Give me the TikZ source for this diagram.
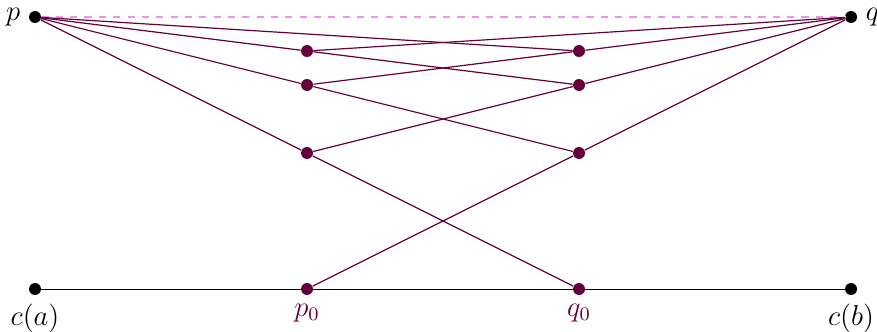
\documentclass[tikz,border=0pt]{standalone}
\usepackage{amsmath}
\definecolor{geopurple}{RGB}{102,0,60}
\definecolor{chordpink}{RGB}{232,150,232}

\begin{document}
\begin{tikzpicture}[font=\large,
  pt/.style={circle,fill=black,inner sep=0pt,minimum size=5pt},
  midpt/.style={pt,fill=geopurple},
  geo/.style={draw=geopurple,line width=0.5pt}]
\useasboundingbox (-0.515,-0.632) rectangle (12.382,4.25);
% endpoints and base segment
\node[pt,label=left:$p$] (p) at (0,4) {};
\node[pt,label=right:$q$] (q) at (12,4) {};
\node[pt,label=below:$c(a)$] (ca) at (0,0) {};
\node[pt,label=below:$c(b)$] (cb) at (12,0) {};
\node[midpt,label={[text=geopurple]below:$p_0$}] (pz) at (4,0) {};
\node[midpt,label={[text=geopurple]below:$q_0$}] (qz) at (8,0) {};
% intermediate points
\node[midpt] (a1) at (4,3.5) {};
\node[midpt] (a2) at (4,3) {};
\node[midpt] (a3) at (4,2) {};
\node[midpt] (b1) at (8,3.5) {};
\node[midpt] (b2) at (8,3) {};
\node[midpt] (b3) at (8,2) {};
\draw[black] (ca)--(pz)--(qz)--(cb);
\draw[chordpink,dashed,line width=0.5pt] (p)--(q);
% paths from p
\draw[geo] (p)--(b1);
\draw[geo] (p)--(a1)--(b2);
\draw[geo] (p)--(a2)--(b3);
\draw[geo] (p)--(a3)--(qz);
% paths from q
\draw[geo] (q)--(a1);
\draw[geo] (q)--(b1)--(a2);
\draw[geo] (q)--(b2)--(a3);
\draw[geo] (q)--(b3)--(pz);
\end{tikzpicture}
\end{document}
